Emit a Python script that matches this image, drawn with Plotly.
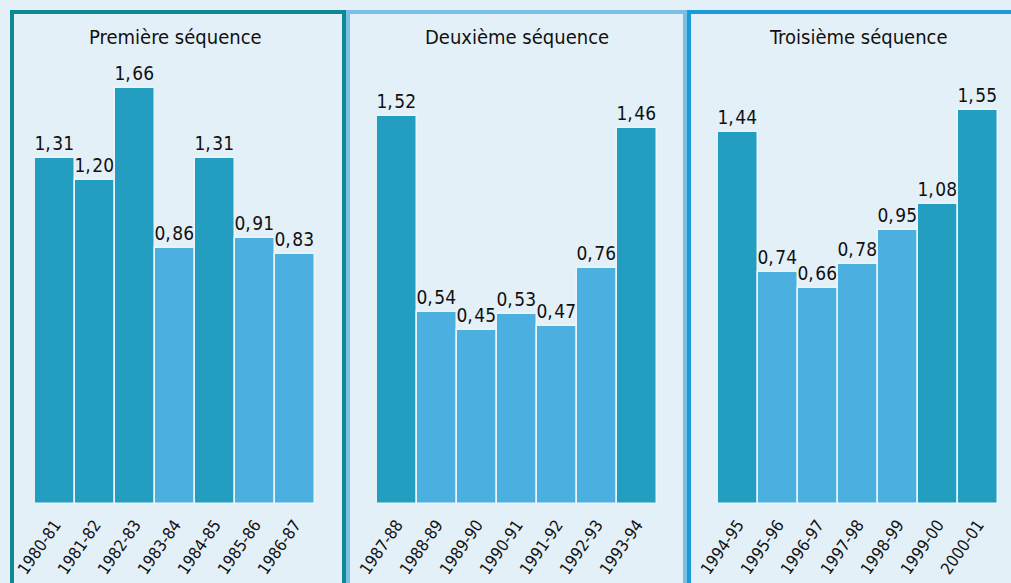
import plotly.graph_objects as go

# ---- data ----
titles = ["Première séquence", "Deuxième séquence", "Troisième séquence"]
cats1 = ["1980-81", "1981-82", "1982-83", "1983-84", "1984-85", "1985-86", "1986-87"]
vals1 = [1.31, 1.20, 1.66, 0.86, 1.31, 0.91, 0.83]
dark1 = [1, 1, 1, 0, 1, 0, 0]
cats2 = ["1987-88", "1988-89", "1989-90", "1990-91", "1991-92", "1992-93", "1993-94"]
vals2 = [1.52, 0.54, 0.45, 0.53, 0.47, 0.76, 1.46]
dark2 = [1, 0, 0, 0, 0, 0, 1]
cats3 = ["1994-95", "1995-96", "1996-97", "1997-98", "1998-99", "1999-00", "2000-01"]
vals3 = [1.44, 0.74, 0.66, 0.78, 0.95, 1.08, 1.55]
dark3 = [1, 0, 0, 0, 0, 1, 1]

BASE = -0.42  # bars are drawn from below zero in the original
W, H = 1011, 583
BG = "#e4f0f8"
DARK = "#239ec0"
LIGHT = "#4bb0e0"
FONT = "DejaVu Sans Condensed, sans-serif"

panels = [
    (cats1, vals1, dark1, "x", (35, 315), (10, 346), "#0f8896"),
    (cats2, vals2, dark2, "x2", (377, 657), (346, 687), "#79bfe6"),
    (cats3, vals3, dark3, "x3", (718, 998), (687, 1020), "#1b9cd8"),
]

fig = go.Figure()
for cats, vals, dk, xa, _, _, _ in panels:
    fig.add_trace(go.Bar(
        x=cats,
        y=[v - BASE for v in vals],
        base=BASE,
        xaxis=xa, yaxis="y",
        marker=dict(color=[DARK if d else LIGHT for d in dk],
                    line=dict(color="#eaf5fb", width=1.5)),
        text=[f"{v:.2f}".replace(".", ",\u200a") for v in vals],
        textposition="outside",
        constraintext="none",
        textfont=dict(family=FONT, size=19, color="#111111"),
        cliponaxis=False,
        showlegend=False,
        hoverinfo="skip",
    ))

ybot = 1 - 504 / H
layout = dict(
    width=W, height=H,
    autosize=False,
    margin=dict(l=0, r=0, t=0, b=0, autoexpand=False),
    paper_bgcolor=BG, plot_bgcolor=BG,
    bargap=0,
    yaxis=dict(domain=[ybot, 1], range=[BASE, 2.1], visible=False, automargin=False),
    shapes=[], annotations=[],
)
for i, (cats, vals, dk, xa, (bx0, bx1), (px0, px1), col) in enumerate(panels):
    key = "xaxis" if i == 0 else f"xaxis{i+1}"
    layout[key] = dict(
        type="category",
        domain=[bx0 / W, bx1 / W], anchor="y",
        range=[-0.5, 6.5],
        automargin=False,
        showgrid=False, showline=False, zeroline=False, ticks="",
        tickangle=-55,
        tickfont=dict(family=FONT, size=16.5, color="#111111"),
        ticklabelstandoff=7,
    )
    lw = 4
    layout["shapes"].append(dict(
        type="rect", xref="paper", yref="paper",
        x0=(px0 + lw / 2) / W, x1=(px1 - lw / 2) / W,
        y0=-0.05, y1=1 - (10 + lw / 2) / H,
        line=dict(color=col, width=lw), fillcolor="rgba(0,0,0,0)", layer="below",
    ))
    layout["annotations"].append(dict(
        text=titles[i], xref="paper", yref="paper",
        x=(bx0 + bx1) / 2 / W, y=1 - 37 / H, xanchor="center", yanchor="middle",
        showarrow=False, font=dict(family=FONT, size=20, color="#111111"),
    ))

fig.update_layout(**layout)
fig.write_html(
    "out.html",
    config={"displayModeBar": False},
    post_script="document.body.style.margin='0';document.body.style.overflow='hidden';",
)
